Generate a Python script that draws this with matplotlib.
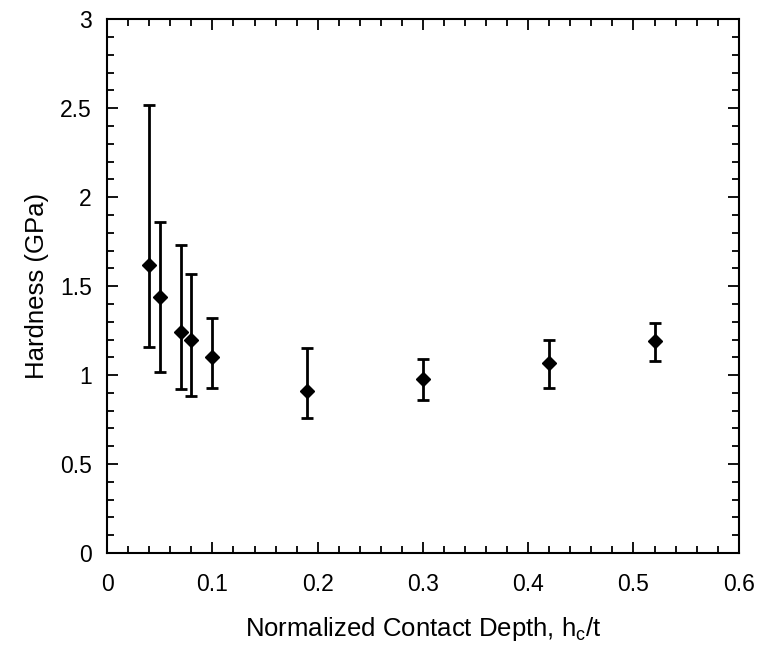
import matplotlib
matplotlib.use("Agg")
import matplotlib.pyplot as plt
from matplotlib.ticker import MultipleLocator

# data
depth = [0.04, 0.05, 0.07, 0.08, 0.10, 0.19, 0.30, 0.42, 0.52]
hardness = [1.62, 1.44, 1.24, 1.20, 1.10, 0.91, 0.98, 1.07, 1.19]
err_low = [1.16, 1.02, 0.92, 0.88, 0.93, 0.76, 0.86, 0.93, 1.08]
err_high = [2.52, 1.86, 1.73, 1.57, 1.32, 1.15, 1.09, 1.20, 1.29]

plt.rcParams['font.family'] = ['Liberation Sans', 'DejaVu Sans']
plt.rcParams['mathtext.fontset'] = 'custom'
plt.rcParams['mathtext.rm'] = 'Liberation Sans'

fig = plt.figure(figsize=(7.6, 6.6), dpi=100)
ax = fig.add_axes([0.141, 0.162, 0.831, 0.809])

yerr = [[h - lo for h, lo in zip(hardness, err_low)],
        [hi - h for h, hi in zip(hardness, err_high)]]
ax.errorbar(depth, hardness, yerr=yerr, fmt='D', color='black', ms=7.5,
            elinewidth=2, capsize=4.5, capthick=2, linestyle='none')

ax.set_xlim(0, 0.6)
ax.set_ylim(0, 3)
ax.xaxis.set_major_locator(MultipleLocator(0.1))
ax.xaxis.set_minor_locator(MultipleLocator(0.02))
ax.yaxis.set_major_locator(MultipleLocator(0.5))
ax.yaxis.set_minor_locator(MultipleLocator(0.1))
fmt = plt.FuncFormatter(lambda v, p: '0' if v == 0 else f'{v:g}')
ax.xaxis.set_major_formatter(fmt)
ax.yaxis.set_major_formatter(fmt)

ax.tick_params(which='both', direction='in', top=True, right=True, width=1.3, labelsize=16.5)
ax.tick_params(which='major', length=8)
ax.tick_params(axis='x', which='major', pad=14)
ax.tick_params(axis='y', which='major', pad=11)
ax.tick_params(which='minor', length=5)
for s in ax.spines.values():
    s.set_linewidth(1.5)

ax.set_xlabel(r'Normalized Contact Depth, h$_{\mathregular{c}}$/t', fontsize=18.5, labelpad=14)
ax.set_ylabel('Hardness (GPa)', fontsize=18.5, labelpad=8)

fig.savefig('out.png', dpi=100)
